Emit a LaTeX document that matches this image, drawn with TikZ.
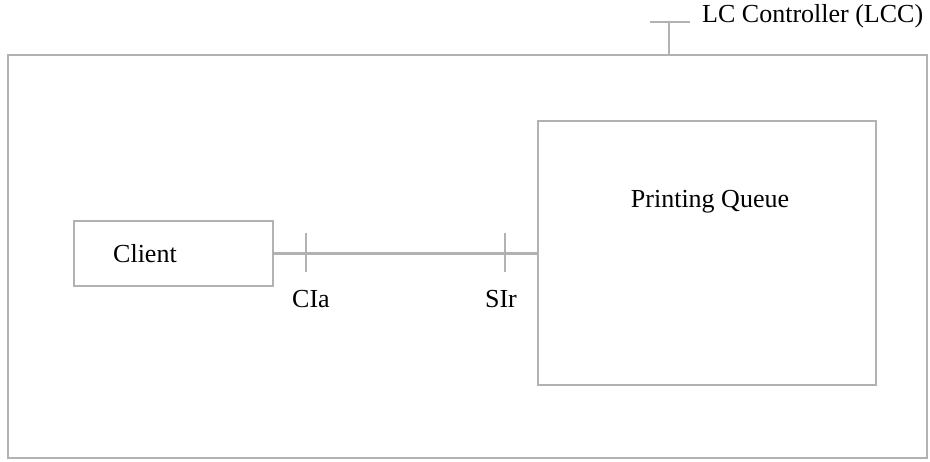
\documentclass[tikz,border=0pt]{standalone}
\usepackage{fontspec}
\setmainfont{Liberation Serif}
\begin{document}
\begin{tikzpicture}[x=1pt,y=-1pt,
  frame/.style={draw=black!30,line width=2pt},
  lbl/.style={inner sep=0pt,anchor=base,font=\fontsize{26}{30}\selectfont}]
\useasboundingbox (0,0) rectangle (930,462);
% outer box
\draw[frame] (8,55) rectangle (927,458);
\coordinate (lcctop) at (669,55);
\coordinate (lccbar) at (669,22);
\coordinate (lccl) at (650,22);
\coordinate (lccr) at (690,22);
\draw[frame] (lcctop) -- (lccbar);
\draw[frame] (lccl) -- (lccr);
\node[lbl,anchor=base west] (lcc) at (702,23) {LC Controller (LCC)};
% client
\node[frame,minimum width=199pt,minimum height=65pt,inner sep=0pt] (client) at (173.5,253.5) {};
\node[lbl,anchor=base west] (clientlbl) at (113,263) {Client};
% printing queue
\node[frame,minimum width=338pt,minimum height=264pt,inner sep=0pt] (pq) at (707,253) {};
\node[lbl] (pqlbl) at (710,208) {Printing Queue};
% connector
\draw[frame,line width=2.8pt] (client.east) -- (client.east -| pq.west);
\coordinate (cia) at (306,253.5);
\coordinate (sir) at (505,253.5);
\draw[frame] ([yshift=-19pt]cia) -- ([yshift=20pt]cia);
\draw[frame] ([yshift=-19pt]sir) -- ([yshift=20pt]sir);
\node[lbl] (cialbl) at (311,308) {CIa};
\node[lbl] (sirlbl) at (501,308) {SIr};
\end{tikzpicture}
\end{document}
